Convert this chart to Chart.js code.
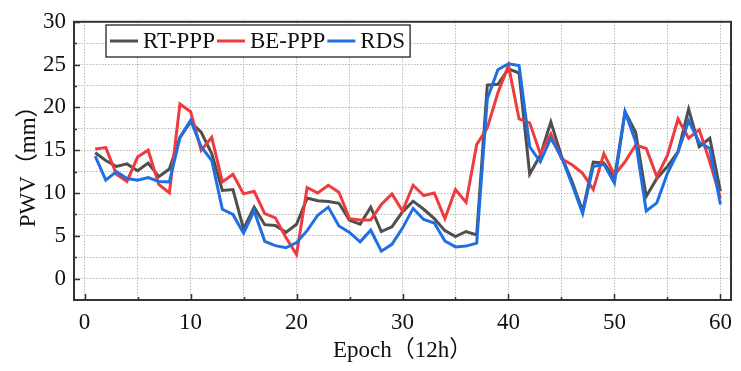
<!DOCTYPE html>
<html>
<head>
<meta charset="utf-8">
<script src="https://cdn.jsdelivr.net/npm/chart.js@4"></script>
<style>
  body { margin: 0; background: #fff; }
</style>
</head>
<body>
<canvas id="myChart" width="741" height="371"></canvas>
<script>
// epochs (12h each)
const epochs = [1, 2, 3, 4, 5, 6, 7, 8, 9, 10, 11, 12, 13, 14, 15, 16, 17, 18, 19, 20,
  21, 22, 23, 24, 25, 26, 27, 28, 29, 30, 31, 32, 33, 34, 35, 36, 37, 38, 39, 40,
  41, 42, 43, 44, 45, 46, 47, 48, 49, 50, 51, 52, 53, 54, 55, 56, 57, 58, 59, 60];

const rtPPP = [14.7, 13.8, 13.1, 13.4, 12.6, 13.5, 11.9, 12.8, 16.5, 18.3,
  17.1, 14.6, 10.3, 10.4, 5.8, 8.35, 6.3, 6.2, 5.4, 6.35,
  9.4, 9.1, 9.0, 8.8, 6.8, 6.35, 8.35, 5.5, 6.05, 7.8,
  9.05, 8.1, 7.0, 5.6, 4.9, 5.5, 5.1, 22.6, 22.7, 24.5,
  24.0, 12.2, 14.4, 18.3, 14.3, 11.35, 7.9, 13.6, 13.5, 11.7,
  19.5, 17.1, 9.6, 11.7, 13.1, 14.8, 19.8, 15.4, 16.4, 10.2];

const bePPP = [15.15, 15.3, 12.2, 11.35, 14.2, 15.0, 11.0, 10.0, 20.4, 19.5,
  15.0, 16.5, 11.3, 12.2, 9.9, 10.2, 7.6, 7.1, 4.8, 2.8,
  10.65, 10.0, 10.9, 10.1, 7.0, 6.85, 6.85, 8.65, 9.9, 7.9,
  10.9, 9.7, 10.0, 7.0, 10.4, 8.9, 15.65, 17.6, 21.7, 24.9,
  18.65, 18.2, 14.6, 16.9, 14.0, 13.3, 12.3, 10.4, 14.6, 12.1,
  13.65, 15.6, 15.2, 11.9, 14.4, 18.65, 16.4, 17.4, 13.65, 9.4];

const rds = [14.3, 11.5, 12.5, 11.7, 11.5, 11.8, 11.35, 11.3, 16.5, 18.5,
  15.4, 13.8, 8.1, 7.5, 5.3, 7.9, 4.35, 3.85, 3.6, 4.2,
  5.6, 7.4, 8.35, 6.15, 5.4, 4.3, 5.65, 3.2, 4.0, 5.9,
  8.2, 6.9, 6.5, 4.4, 3.7, 3.8, 4.15, 21.0, 24.4, 25.1,
  24.9, 15.4, 13.65, 16.4, 14.2, 11.0, 7.6, 13.1, 13.35, 11.15,
  19.5, 16.0, 7.9, 8.85, 12.3, 14.8, 18.45, 15.9, 15.2, 8.65];

const xTicks = [0, 5, 10, 15, 20, 25, 30, 35, 40, 45, 50, 55, 60];
const yTicks = [0, 2.5, 5, 7.5, 10, 12.5, 15, 17.5, 20, 22.5, 25, 27.5, 30];

const FONT = "'Liberation Serif', 'Noto Sans CJK SC', serif";

const toPoints = (vals) => vals.map((v, i) => ({ x: epochs[i], y: v }));

// inward tick marks + closed frame + boxed legend inside the plot
const framePlugin = {
  id: "frame",
  afterDraw(chart) {
    const { ctx, chartArea: { left, right, top, bottom }, scales: { x, y } } = chart;
    ctx.save();
    ctx.strokeStyle = "#333";
    ctx.lineWidth = 1.5;
    xTicks.forEach((v) => {
      const px = Math.round(x.getPixelForValue(v)) + 0.5;
      const len = v % 10 === 0 ? 6 : 3;
      ctx.beginPath();
      ctx.moveTo(px, bottom);
      ctx.lineTo(px, bottom - len);
      ctx.stroke();
    });
    yTicks.forEach((v) => {
      const py = Math.round(y.getPixelForValue(v)) + 0.5;
      const len = v % 5 === 0 ? 6 : 3;
      ctx.beginPath();
      ctx.moveTo(left, py);
      ctx.lineTo(left + len, py);
      ctx.stroke();
    });
    ctx.lineWidth = 2;
    ctx.strokeRect(left, top, right - left, bottom - top);

    // legend
    const bx = 106, by = 25, bh = 32;
    ctx.font = "23px " + FONT;
    let cx = bx + 4;
    const items = chart.data.datasets.map((ds) => {
      const item = { label: ds.label, color: ds.borderColor, x: cx };
      cx += 28 + 5 + ctx.measureText(ds.label).width + 2;
      return item;
    });
    const bw = cx + 3 - bx;
    ctx.fillStyle = "#fff";
    ctx.fillRect(bx, by, bw, bh);
    ctx.strokeStyle = "#111";
    ctx.lineWidth = 1.2;
    ctx.strokeRect(bx, by, bw, bh);
    ctx.textBaseline = "middle";
    ctx.textAlign = "left";
    items.forEach((it) => {
      ctx.strokeStyle = it.color;
      ctx.lineWidth = 3;
      ctx.beginPath();
      ctx.moveTo(it.x, by + bh / 2);
      ctx.lineTo(it.x + 28, by + bh / 2);
      ctx.stroke();
      ctx.fillStyle = "#111";
      ctx.fillText(it.label, it.x + 33, by + bh / 2 + 1);
    });
    ctx.restore();
  },
};

const ctx = document.getElementById("myChart").getContext("2d");
new Chart(ctx, {
  type: "line",
  data: {
    datasets: [
      { label: "RT-PPP", data: toPoints(rtPPP), borderColor: "#4f4f4f", order: 3 },
      { label: "BE-PPP", data: toPoints(bePPP), borderColor: "#ef3b3d", order: 2 },
      { label: "RDS", data: toPoints(rds), borderColor: "#1f6fe3", order: 1 },
    ],
  },
  options: {
    responsive: false,
    animation: false,
    layout: { padding: { top: 18, right: 5, left: 0, bottom: 0 } },
    elements: {
      point: { radius: 0 },
      line: { borderWidth: 3, tension: 0, borderJoinStyle: "miter" },
    },
    plugins: {
      legend: { display: false },
      tooltip: { enabled: false },
    },
    scales: {
      x: {
        type: "linear",
        min: -1,
        max: 61,
        afterBuildTicks: (scale) => { scale.ticks = xTicks.map((v) => ({ value: v })); },
        afterFit: (scale) => { scale.height = 71; },
        ticks: {
          autoSkip: false,
          maxRotation: 0,
          padding: 9,
          color: "#111",
          font: { family: FONT, size: 23 },
          callback: (v) => (v % 10 === 0 ? v : ""),
        },
        grid: { color: "#b8b8b8", lineWidth: 1, drawTicks: false },
        border: { color: "#333", width: 2, dash: [1.5, 1.5] },
        title: {
          display: true,
          text: "Epoch（12h）",
          color: "#111",
          font: { family: FONT, size: 23 },
          padding: { top: 0, bottom: 6 },
        },
      },
      y: {
        min: -2.5,
        max: 30,
        afterBuildTicks: (scale) => { scale.ticks = yTicks.map((v) => ({ value: v })); },
        afterFit: (scale) => { scale.width = 74; },
        ticks: {
          autoSkip: false,
          padding: 8,
          color: "#111",
          font: { family: FONT, size: 23 },
          callback: (v) => (v % 5 === 0 ? v : ""),
        },
        grid: { color: "#b8b8b8", lineWidth: 1, drawTicks: false },
        border: { color: "#333", width: 2, dash: [1.5, 1.5] },
        title: {
          display: true,
          text: "PWV（mm）",
          color: "#111",
          font: { family: FONT, size: 23 },
          padding: { top: 15, bottom: 0 },
        },
      },
    },
  },
  plugins: [framePlugin],
});
</script>
</body>
</html>
